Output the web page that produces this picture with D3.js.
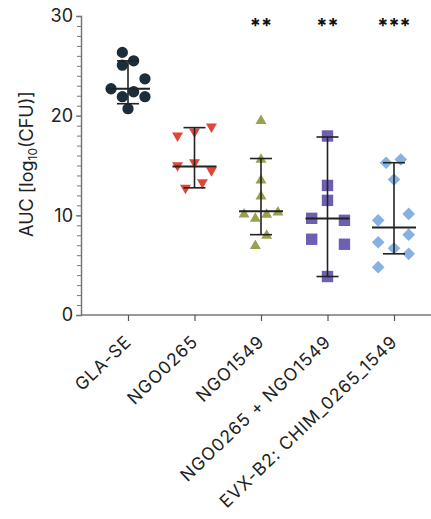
<!DOCTYPE html>
<html>
<head>
<meta charset="utf-8">
<script src="https://cdn.jsdelivr.net/npm/d3@7"></script>
<style>
  body { margin: 0; background: #fff; }
  text { font-family: Inter, "Noto Sans", sans-serif; }
</style>
</head>
<body>
<div id="chart"></div>
<script>
var width = 431,
    height = 519;

// categories
var groups = ["GLA-SE", "NGO0265", "NGO1549", "NGO0265 + NGO1549", "EVX-B2: CHIM_0265_1549"];

// individual values per group
var glaSe   = [26.35, 25.5, 25.07, 23.7, 22.7, 22.4, 21.9, 21.9, 20.7];
var ngo0265 = [18.9, 18.0, 18.4, 15.0, 15.3, 14.5, 12.76, 13.3];
var ngo1549 = [19.47, 15.6, 13.5, 11.9, 10.1, 9.67, 10.07, 10.3, 7.96, 6.95];
var combo   = [17.96, 13.0, 11.5, 9.7, 9.5, 7.6, 7.1, 3.86];
var chim    = [15.28, 15.6, 13.6, 9.5, 10.14, 7.3, 6.7, 8.06, 6.14, 4.8];

// dot-plot column of each point (in marker widths from the centre)
var glaSeCol   = [-0.5, 0.5, -0.5, 1.5, -1.5, 0.5, -0.5, 1.5, 0];
var ngo0265Col = [1.5, -1.5, 0, -1.5, 0, 1.5, -0.8, 0.7];
var ngo1549Col = [0, 0, 0, 0, -1.5, -0.5, 0.5, 1.5, 0.5, -0.5];
var comboCol   = [0, 0, 0, -1.4, 1.5, -1.4, 1.5, 0];
var chimCol    = [-0.7, 0.6, 0, -1.4, 1.3, -1.4, 0, 1.3, 1.3, -1.4];

// summary line and error bar per group
var centre = [22.7, 14.9, 10.4, 9.67, 8.79];
var lower  = [21.2, 12.76, 8.06, 3.86, 6.14];
var upper  = [25.5, 18.8, 15.7, 17.86, 15.28];

// significance labels
var stars = ["", "", "**", "**", "***"];

var yTicks = [0, 10, 20, 30];

var values = [glaSe, ngo0265, ngo1549, combo, chim];
var cols = [glaSeCol, ngo0265Col, ngo1549Col, comboCol, chimCol];
var colors = ["#1c2e3b", "#e0473a", "#9ba04e", "#6f5fb3", "#86b1e2"];

var svg = d3.select("#chart").append("svg")
    .attr("width", width)
    .attr("height", height);

var x = d3.scalePoint()
    .domain(groups)
    .range([128, 394]);

var y = d3.scaleLinear()
    .domain([0, 30])
    .range([315, 16]);

var colX = d3.scaleLinear().domain([0, 1]).range([0, 11.3]);

// y axis with minor ticks every 1
svg.append("g")
    .attr("transform", "translate(81,0)")
    .call(d3.axisLeft(y).tickValues(d3.range(0, 31, 1)).tickSize(4).tickFormat(""))
    .call(function(g) {
      g.select(".domain").attr("stroke", "#777").attr("stroke-width", 1.5);
      g.selectAll(".tick line").attr("stroke", "#777").attr("stroke-width", 1);
    });

svg.append("g")
    .attr("transform", "translate(81,0)")
    .call(d3.axisLeft(y).tickValues(yTicks).tickSize(5).tickPadding(3))
    .call(function(g) {
      g.select(".domain").remove();
      g.selectAll(".tick line").attr("stroke", "#777").attr("stroke-width", 1.2);
      g.selectAll(".tick text")
          .attr("font-size", 18)
          .attr("fill", "#222")
          .style("font-family", "Inter, sans-serif");
    });

// x axis
svg.append("line")
    .attr("x1", 81).attr("x2", 431)
    .attr("y1", y(0)).attr("y2", y(0))
    .attr("stroke", "#777")
    .attr("stroke-width", 1.5);

var xAxis = svg.append("g")
    .attr("transform", "translate(0," + y(0) + ")")
    .call(d3.axisBottom(x).tickSize(6).tickSizeOuter(0));
xAxis.select(".domain").remove();
xAxis.selectAll(".tick line").attr("stroke", "#555").attr("stroke-width", 1.2);
xAxis.selectAll(".tick text")
    .attr("font-size", 17.5)
    .attr("letter-spacing", "1px")
    .attr("fill", "#222")
    .style("font-family", "Inter, sans-serif")
    .attr("text-anchor", "end")
    .attr("dy", null)
    .attr("y", 0)
    .attr("transform", "translate(4,28) rotate(-44)");

// y title
var title = svg.append("text")
    .attr("transform", "translate(33,164) rotate(-90)")
    .attr("text-anchor", "middle")
    .attr("font-size", 18)
    .attr("fill", "#222");
title.append("tspan").text("AUC [log");
title.append("tspan").attr("font-size", 12).attr("dy", 4).text("10");
title.append("tspan").attr("dy", -4).text("(CFU)]");

// marker shapes
var shapes = [
  { type: d3.symbolCircle, size: 100, rot: 0 },
  { type: d3.symbolTriangle, size: 52, rot: 180 },
  { type: d3.symbolTriangle, size: 52, rot: 0 },
  { type: d3.symbolSquare, size: 130, rot: 0 },
  { type: d3.symbolSquare, size: 80, rot: 45 }
];

groups.forEach(function(gName, i) {
  var pts = values[i].map(function(v, j) { return { v: v, c: cols[i][j] }; });
  var sym = d3.symbol().type(shapes[i].type).size(shapes[i].size);
  svg.append("g")
    .selectAll("path")
      .data(pts)
    .enter().append("path")
      .attr("d", sym)
      .attr("transform", function(d) {
        return "translate(" + (x(gName) + colX(d.c)) + "," + y(d.v) + ") rotate(" + shapes[i].rot + ")";
      })
      .attr("fill", colors[i]);
});

// error bars + centre lines
var bars = svg.append("g")
    .attr("stroke", "#222")
    .attr("stroke-width", 1.6);

groups.forEach(function(gName, i) {
  var cx = x(gName);
  bars.append("line")
      .attr("x1", cx).attr("x2", cx)
      .attr("y1", y(lower[i])).attr("y2", y(upper[i]));
  bars.append("line")
      .attr("x1", cx - 11).attr("x2", cx + 11)
      .attr("y1", y(lower[i])).attr("y2", y(lower[i]));
  bars.append("line")
      .attr("x1", cx - 11).attr("x2", cx + 11)
      .attr("y1", y(upper[i])).attr("y2", y(upper[i]));
  bars.append("line")
      .attr("x1", cx - 22).attr("x2", cx + 22)
      .attr("y1", y(centre[i])).attr("y2", y(centre[i]))
      .attr("stroke-width", 2);
});

// significance stars
svg.append("g")
  .selectAll("text")
    .data(groups)
  .enter().append("text")
    .attr("x", function(d) { return x(d); })
    .attr("y", 33)
    .attr("text-anchor", "middle")
    .attr("font-size", 20)
    .attr("font-weight", "bold")
    .attr("fill", "#111")
    .text(function(d, i) { return stars[i]; });
</script>
</body>
</html>
